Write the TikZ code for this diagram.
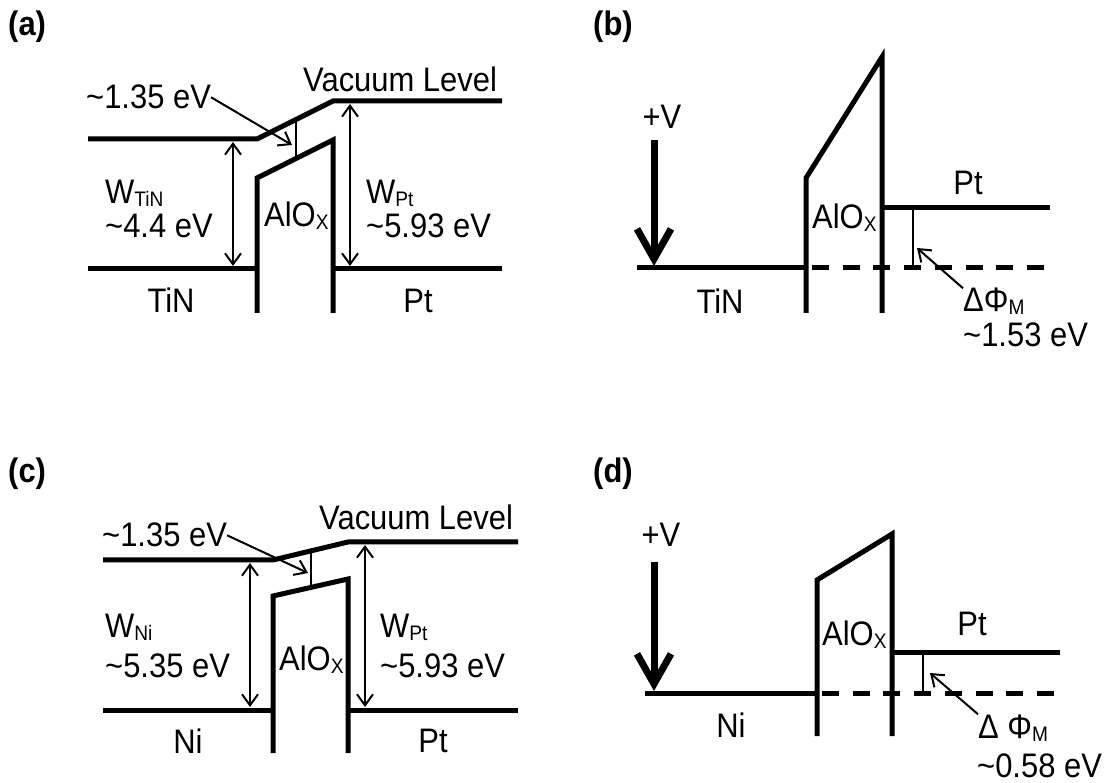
\documentclass[tikz,border=0pt]{standalone}
\usepackage{fontspec}
\setmainfont{Liberation Sans}[FakeStretch=0.91]
\usetikzlibrary{arrows.meta}
\newcommand{\lowsub}[1]{\raisebox{-3pt}{\fontsize{21}{21}\selectfont #1}}
\tikzset{
  band/.style={line width=5pt},
  thinline/.style={line width=2pt},
  dimarrow/.style={line width=2pt, {Straight Barb[length=11pt,width=16pt]}-{Straight Barb[length=11pt,width=16pt]}},
  ptrarrow/.style={line width=2pt, -{Straight Barb[length=11pt,width=16pt]}},
  biasarrow/.style={line width=7pt, -{Straight Barb[length=30pt,width=34pt]}},
  fermidash/.style={line width=5pt, dash pattern=on 17pt off 13.7pt},
}
\begin{document}
\begin{tikzpicture}[x=1pt, y=-1pt, every node/.style={font=\fontsize{34}{40}\selectfont, inner sep=0pt}]
    \useasboundingbox (0,0) rectangle (1112,783);
    \foreach \lab/\px/\py in {a/8/36, b/593/36, c/8/483, d/593/483}
        \node[anchor=base west, font=\fontsize{34}{40}\selectfont\bfseries] (lab-\lab) at (\px,\py) {(\lab)};
    % (a) TiN / AlOx / Pt at equilibrium
    \draw[band] (88,139) -- (257,139) -- (333,101) -- (502,101);
    \draw[band] (88,269) -- (257,269);
    \draw[band] (257,313) -- (257,178) -- (333,140) -- (333,313);
    \draw[band] (333,269) -- (502,269);
    \coordinate (a-wl-top) at (233,142);
    \coordinate (a-wl-bot) at (233,266);
    \coordinate (a-wr-top) at (350,104);
    \coordinate (a-wr-bot) at (350,266);
    \coordinate (a-vt) at (296,120);
    \coordinate (a-vb) at (296,158);
    \coordinate (a-tip) at (292,145);
    \draw[dimarrow] (a-wl-top) -- (a-wl-bot);
    \draw[dimarrow] (a-wr-top) -- (a-wr-bot);
    \draw[thinline] (a-vt) -- (a-vb);
    \node[anchor=base west] (a-step) at (86,109) {\textasciitilde1.35 eV};
    \draw[ptrarrow] (a-step.east) -- (a-tip);
    \node[anchor=base west] (a-vac) at (303,92) {Vacuum Level};
    \node[anchor=base west] (a-wtin) at (105,204) {W\lowsub{TiN}};
    \node[anchor=base west] (a-wtin-val) at (105,238) {\textasciitilde4.4 eV};
    \node[anchor=base west] (a-ox) at (264,227) {AlO\lowsub{X}};
    \node[anchor=base west] (a-wpt) at (366,204) {W\lowsub{Pt}};
    \node[anchor=base west] (a-wpt-val) at (366,238) {\textasciitilde5.93 eV};
    \node[anchor=base] (a-tin) at (171,313) {TiN};
    \node[anchor=base] (a-pt) at (418,313) {Pt};
    % (b) TiN under bias
    \draw[band] (637,268) -- (806,268);
    \draw[band] (806,313) -- (806,178) -- (882,57) -- (882,313);
    \draw[band] (882,208) -- (1050,208);
    \draw[fermidash] (812,268) -- (1050,268);
    \coordinate (b-dt) at (913,208);
    \coordinate (b-db) at (913,268);
    \coordinate (b-tip) at (917,248);
    \coordinate (b-bias-top) at (654,140);
    \coordinate (b-bias-tip) at (654,266);
    \draw[thinline] (b-dt) -- (b-db);
    \draw[biasarrow] (b-bias-top) -- (b-bias-tip);
    \node[anchor=base] (b-plusv) at (662,129) {+V};
    \node[anchor=base west] (b-ox) at (812,229) {AlO\lowsub{X}};
    \node[anchor=base] (b-tin) at (720,314) {TiN};
    \node[anchor=base] (b-pt) at (968,195) {Pt};
    \node[anchor=base west] (b-dphi) at (963,312) {ΔΦ\lowsub{M}};
    \node[anchor=base west] (b-dphi-val) at (963,347) {\textasciitilde1.53 eV};
    \draw[ptrarrow] (b-dphi.north west) -- (b-tip);
    % (c) Ni / AlOx / Pt at equilibrium
    \draw[band] (103,560) -- (273,560) -- (348,542) -- (518,542);
    \draw[band] (103,710) -- (273,710);
    \draw[band] (273,753) -- (273,596) -- (348,579) -- (348,753);
    \draw[band] (348,710) -- (518,710);
    \coordinate (c-wl-top) at (250,563);
    \coordinate (c-wl-bot) at (250,707);
    \coordinate (c-wr-top) at (365,545);
    \coordinate (c-wr-bot) at (365,707);
    \coordinate (c-vt) at (311,551);
    \coordinate (c-vb) at (311,587);
    \coordinate (c-tip) at (308,573);
    \draw[dimarrow] (c-wl-top) -- (c-wl-bot);
    \draw[dimarrow] (c-wr-top) -- (c-wr-bot);
    \draw[thinline] (c-vt) -- (c-vb);
    \node[anchor=base west] (c-step) at (102,547) {\textasciitilde1.35 eV};
    \draw[ptrarrow] (c-step.east) -- (c-tip);
    \node[anchor=base west] (c-vac) at (319,530) {Vacuum Level};
    \node[anchor=base west] (c-wni) at (105,637) {W\lowsub{Ni}};
    \node[anchor=base west] (c-wni-val) at (105,677) {\textasciitilde5.35 eV};
    \node[anchor=base west] (c-ox) at (279,670) {AlO\lowsub{X}};
    \node[anchor=base west] (c-wpt) at (380,637) {W\lowsub{Pt}};
    \node[anchor=base west] (c-wpt-val) at (380,677) {\textasciitilde5.93 eV};
    \node[anchor=base] (c-ni) at (188,753) {Ni};
    \node[anchor=base] (c-pt) at (433,752) {Pt};
    % (d) Ni under bias
    \draw[band] (645,693) -- (817,693);
    \draw[band] (817,736) -- (817,580) -- (892,534) -- (892,736);
    \draw[band] (892,652) -- (1060,652);
    \draw[fermidash] (822,693) -- (1060,693);
    \coordinate (d-dt) at (923,652);
    \coordinate (d-db) at (923,693);
    \coordinate (d-tip) at (930,673);
    \coordinate (d-bias-top) at (654,562);
    \coordinate (d-bias-tip) at (654,691);
    \draw[thinline] (d-dt) -- (d-db);
    \draw[biasarrow] (d-bias-top) -- (d-bias-tip);
    \node[anchor=base] (d-plusv) at (661,547) {+V};
    \node[anchor=base west] (d-ox) at (822,645) {AlO\lowsub{X}};
    \node[anchor=base] (d-ni) at (731,737) {Ni};
    \node[anchor=base] (d-pt) at (972,635) {Pt};
    \node[anchor=base west] (d-dphi) at (978,738) {Δ Φ\lowsub{M}};
    \node[anchor=base west] (d-dphi-val) at (977,777) {\textasciitilde0.58 eV};
    \draw[ptrarrow] (d-dphi.north west) -- (d-tip);
\end{tikzpicture}
\end{document}
